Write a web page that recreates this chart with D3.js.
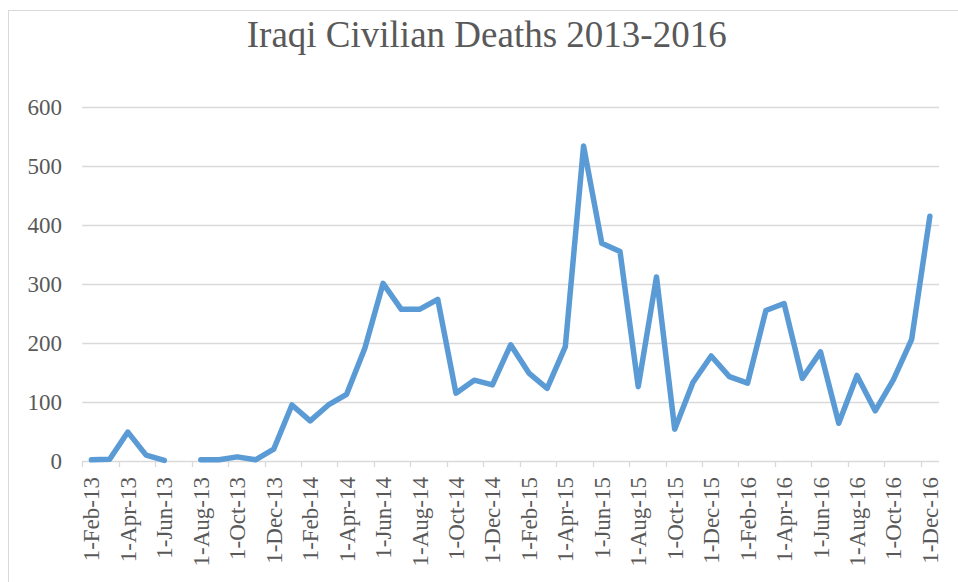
<!DOCTYPE html>
<html>
<head>
<meta charset="utf-8">
<script src="https://cdn.jsdelivr.net/npm/d3@7"></script>
<style>
  html, body { margin: 0; padding: 0; background: #fff; }
  svg { display: block; }
  text { font-family: "Liberation Serif", "Times New Roman", Times, serif; }
</style>
</head>
<body>
<svg id="chart" width="958" height="582"></svg>
<script>
const title = "Iraqi Civilian Deaths 2013-2016";
const months = [
  "1-Feb-13","1-Mar-13","1-Apr-13","1-May-13","1-Jun-13","1-Jul-13","1-Aug-13","1-Sep-13","1-Oct-13","1-Nov-13","1-Dec-13",
  "1-Jan-14","1-Feb-14","1-Mar-14","1-Apr-14","1-May-14","1-Jun-14","1-Jul-14","1-Aug-14","1-Sep-14","1-Oct-14","1-Nov-14","1-Dec-14",
  "1-Jan-15","1-Feb-15","1-Mar-15","1-Apr-15","1-May-15","1-Jun-15","1-Jul-15","1-Aug-15","1-Sep-15","1-Oct-15","1-Nov-15","1-Dec-15",
  "1-Jan-16","1-Feb-16","1-Mar-16","1-Apr-16","1-May-16","1-Jun-16","1-Jul-16","1-Aug-16","1-Sep-16","1-Oct-16","1-Nov-16","1-Dec-16"
];
const deaths = [
  2, 3, 49, 10, 1, null, 2, 2, 7, 2, 20,
  95, 68, 95, 113, 191, 301, 257, 257, 274, 115, 137, 129,
  197, 149, 123, 194, 534, 369, 355, 126, 312, 54, 133, 178,
  143, 132, 255, 267, 140, 185, 64, 145, 85, 138, 206, 415
];
const yTicks = [0, 100, 200, 300, 400, 500, 600];

const svg = d3.select("#chart");
const W = 958, H = 582;
const plot = { left: 82.3, right: 939, top: 107, bottom: 461 };
const textColor = "#595959";
const gridColor = "#d9d9d9";

// chart border
svg.append("rect")
  .attr("x", 8.5).attr("y", 10.5)
  .attr("width", W).attr("height", H)
  .attr("fill", "#fff").attr("stroke", gridColor).attr("stroke-width", 1);

// title
svg.append("text")
  .attr("x", 486.7).attr("y", 46.7)
  .attr("text-anchor", "middle")
  .attr("font-size", 37)
  .attr("fill", textColor)
  .text(title);

const x = d3.scaleBand().domain(months).range([plot.left, plot.right]).padding(0);
const y = d3.scaleLinear().domain([0, 600]).range([plot.bottom, plot.top]);

// gridlines
svg.append("g").selectAll("line")
  .data(yTicks.filter(d => d !== 0))
  .join("line")
  .attr("x1", plot.left).attr("x2", plot.right)
  .attr("y1", d => Math.round(y(d)) + 0.5).attr("y2", d => Math.round(y(d)) + 0.5)
  .attr("stroke", gridColor).attr("stroke-width", 1.3);

// y labels
svg.append("g").selectAll("text")
  .data(yTicks)
  .join("text")
  .attr("x", 62).attr("y", d => y(d))
  .attr("dy", "0.35em")
  .attr("text-anchor", "end")
  .attr("font-size", 23)
  .attr("fill", textColor)
  .text(d => d);

// x axis line
svg.append("line")
  .attr("x1", plot.left).attr("x2", plot.right)
  .attr("y1", plot.bottom + 0.5).attr("y2", plot.bottom + 0.5)
  .attr("stroke", gridColor).attr("stroke-width", 1.3);

// tick marks at category boundaries every 2 categories
const tickIdx = d3.range(0, months.length, 2);
svg.append("g").selectAll("line")
  .data(tickIdx)
  .join("line")
  .attr("x1", i => Math.round(x(months[i])) + 0.5)
  .attr("x2", i => Math.round(x(months[i])) + 0.5)
  .attr("y1", plot.bottom).attr("y2", plot.bottom + 6)
  .attr("stroke", gridColor).attr("stroke-width", 1.3);

// x labels
svg.append("g").selectAll("text")
  .data(tickIdx)
  .join("text")
  .attr("transform", i => `translate(${x(months[i]) + x.bandwidth() / 2},${plot.bottom + 16}) rotate(-90)`)
  .attr("dy", "0.35em")
  .attr("text-anchor", "end")
  .attr("font-size", 23)
  .attr("fill", textColor)
  .text(i => months[i]);

// line
const line = d3.line()
  .defined(d => d.v !== null)
  .x(d => x(d.m) + x.bandwidth() / 2)
  .y(d => y(d.v));

svg.append("path")
  .datum(months.map((m, i) => ({ m, v: deaths[i] })))
  .attr("d", line)
  .attr("fill", "none")
  .attr("stroke", "#5b9bd5")
  .attr("stroke-width", 5.5)
  .attr("stroke-linejoin", "round")
  .attr("stroke-linecap", "round");
</script>
</body>
</html>
